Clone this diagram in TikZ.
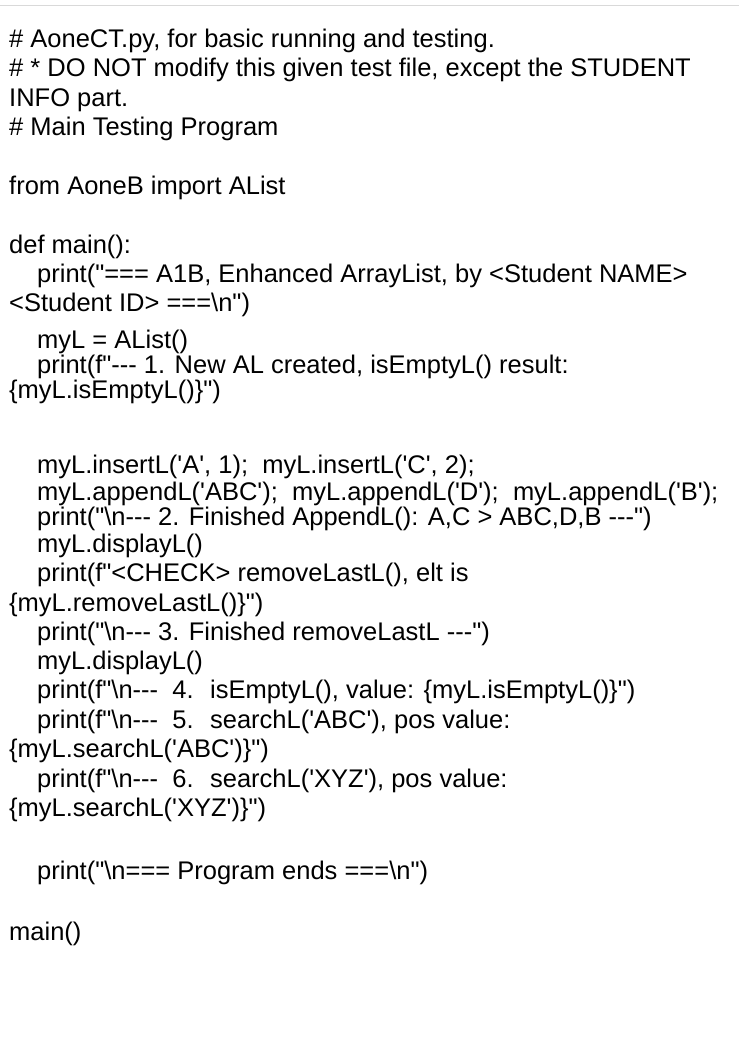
\documentclass[tikz,border=0pt]{standalone}
\usepackage{fontspec}
\newfontfamily\cf{Liberation Sans}
\begin{document}
\begin{tikzpicture}[x=1pt,y=-1pt,
  ln/.style={anchor=base west,inner sep=0pt,font=\cf\fontsize{25.5}{30}\selectfont}]
\useasboundingbox[fill=white] (0,0) rectangle (739,1060);
\draw[gray!30,line width=1pt] (0,5) -- (739,5);
\def\a{9}\def\b{37}
\node[ln] (l1) at (\a,47) {\# AoneCT.py, for basic running and testing.};
\node[ln] (l2) at (\a,76) {\# * DO NOT modify this given test file, except the STUDENT};
\node[ln] (l3) at (\a,106) {INFO part.};
\node[ln] (l4) at (\a,135) {\# Main Testing Program};
\node[ln] (l5) at (\a,194) {from AoneB import AList};
\node[ln] (l6) at (\a,253) {def main():};
\node[ln] (l7) at (\b,282) {print("=== A1B, Enhanced ArrayList, by <Student NAME>};
\node[ln] (l8) at (\a,311) {<Student ID> ===\textbackslash n")};
\node[ln] (l9) at (\b,348) {myL = AList()};
\node[ln] (l10) at (\b,373) {print(f"--- 1. New AL created, isEmptyL() result:};
\node[ln] (l11) at (\a,398) {\{myL.isEmptyL()\}")};
\node[ln] (l12) at (\b,473) {myL.insertL('A', 1); \ myL.insertL('C', 2);};
\node[ln] (l13) at (\b,500) {myL.appendL('ABC'); \ myL.appendL('D'); \ myL.appendL('B');};
\node[ln] (l14) at (\b,525) {print("\textbackslash n--- 2. Finished AppendL(): A,C > ABC,D,B ---")};
\node[ln] (l15) at (\b,552) {myL.displayL()};
\node[ln] (l16) at (\b,581) {print(f"<CHECK> removeLastL(), elt is};
\node[ln] (l17) at (\a,611) {\{myL.removeLastL()\}")};
\node[ln] (l18) at (\b,640) {print("\textbackslash n--- 3. Finished removeLastL ---")};
\node[ln] (l19) at (\b,669) {myL.displayL()};
\node[ln] (l20) at (\b,698) {print(f"\textbackslash n--- \ 4. \ isEmptyL(), value: \{myL.isEmptyL()\}")};
\node[ln] (l21) at (\b,728) {print(f"\textbackslash n--- \ 5. \ searchL('ABC'), pos value:};
\node[ln] (l22) at (\a,757) {\{myL.searchL('ABC')\}")};
\node[ln] (l23) at (\b,787) {print(f"\textbackslash n--- \ 6. \ searchL('XYZ'), pos value:};
\node[ln] (l24) at (\a,816) {\{myL.searchL('XYZ')\}")};
\node[ln] (l25) at (\b,879) {print("\textbackslash n=== Program ends ===\textbackslash n")};
\node[ln] (l26) at (\a,940) {main()};
\end{tikzpicture}
\end{document}
